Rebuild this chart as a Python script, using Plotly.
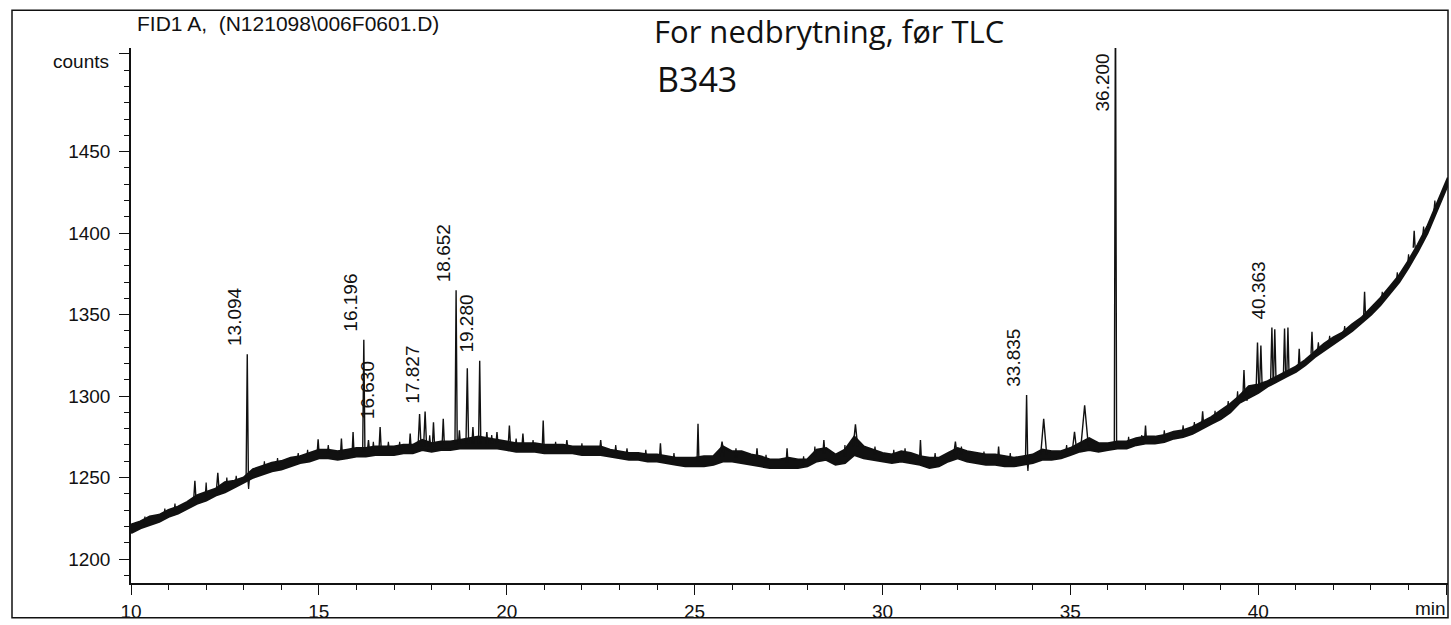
import plotly.graph_objects as go

# Detector baseline: retention time (min) with lower / upper edge of the noise band (counts)
band_t = [10.0, 10.25, 10.5, 10.75, 11.0, 11.25, 11.5, 11.75, 12.0, 12.25, 12.5, 12.75,
          13.0, 13.25, 13.5, 13.75, 14.0, 14.25, 14.5, 14.75, 15.0, 15.25, 15.5, 15.75,
          16.0, 16.25, 16.5, 16.75, 17.0, 17.25, 17.5, 17.75, 18.0, 18.25, 18.5, 18.75,
          19.0, 19.25, 19.5, 19.75, 20.0, 20.25, 20.5, 20.75, 21.0, 21.25, 21.5, 21.75,
          22.0, 22.25, 22.5, 22.75, 23.0, 23.25, 23.5, 23.75, 24.0, 24.25, 24.5, 24.75,
          25.0, 25.25, 25.5, 25.75, 26.0, 26.25, 26.5, 26.75, 27.0, 27.25, 27.5, 27.75,
          28.0, 28.25, 28.5, 28.75, 29.0, 29.25, 29.5, 29.75, 30.0, 30.25, 30.5, 30.75,
          31.0, 31.25, 31.5, 31.75, 32.0, 32.25, 32.5, 32.75, 33.0, 33.25, 33.5, 33.75,
          34.0, 34.25, 34.5, 34.75, 35.0, 35.25, 35.5, 35.75, 36.0, 36.25, 36.5, 36.75,
          37.0, 37.25, 37.5, 37.75, 38.0, 38.25, 38.5, 38.75, 39.0, 39.25, 39.5, 39.75,
          40.0, 40.25, 40.5, 40.75, 41.0, 41.25, 41.5, 41.75, 42.0, 42.25, 42.5, 42.75,
          43.0, 43.25, 43.5, 43.75, 44.0, 44.25, 44.5, 44.75, 45.05]
band_lo = [1216, 1219, 1221, 1223, 1226, 1228, 1231, 1234, 1236, 1239, 1241, 1244,
           1247, 1250, 1252, 1254, 1255, 1257, 1259, 1260, 1262, 1262, 1261, 1262,
           1263, 1263, 1264, 1264, 1264, 1265, 1265, 1267, 1266, 1267, 1267, 1268,
           1268, 1268, 1268, 1268, 1267, 1266, 1266, 1266, 1265, 1265, 1265, 1265,
           1264, 1264, 1264, 1263, 1262, 1261, 1261, 1260, 1260, 1259, 1258, 1257,
           1257, 1257, 1258, 1260, 1260, 1259, 1258, 1257, 1256, 1256, 1256, 1256,
           1257, 1260, 1261, 1258, 1259, 1264, 1262, 1261, 1260, 1259, 1260, 1259,
           1258, 1256, 1257, 1260, 1262, 1260, 1259, 1258, 1258, 1257, 1257, 1258,
           1259, 1261, 1261, 1262, 1264, 1266, 1267, 1266, 1267, 1268, 1268, 1270,
           1271, 1271, 1272, 1274, 1275, 1277, 1280, 1283, 1286, 1290, 1296, 1299,
           1302, 1306, 1309, 1312, 1315, 1319, 1324, 1328, 1332, 1336, 1340, 1345,
           1350, 1356, 1363, 1370, 1379, 1389, 1400, 1414, 1430]
band_hi = [1221, 1223, 1226, 1227, 1230, 1232, 1235, 1239, 1241, 1243, 1247, 1248,
           1250, 1255, 1257, 1259, 1260, 1262, 1263, 1265, 1267, 1267, 1266, 1267,
           1268, 1268, 1269, 1269, 1269, 1270, 1270, 1273, 1271, 1272, 1272, 1273,
           1274, 1275, 1274, 1273, 1272, 1271, 1271, 1271, 1270, 1270, 1270, 1269,
           1269, 1269, 1269, 1267, 1266, 1265, 1265, 1264, 1264, 1263, 1262, 1262,
           1262, 1263, 1263, 1269, 1266, 1266, 1264, 1263, 1261, 1261, 1262, 1261,
           1261, 1267, 1268, 1264, 1267, 1275, 1269, 1267, 1265, 1264, 1266, 1265,
           1263, 1262, 1262, 1265, 1268, 1266, 1265, 1264, 1264, 1263, 1262, 1263,
           1264, 1267, 1266, 1266, 1268, 1271, 1274, 1271, 1271, 1272, 1272, 1274,
           1275, 1275, 1276, 1278, 1279, 1281, 1284, 1287, 1291, 1295, 1300, 1306,
           1307, 1309, 1312, 1315, 1318, 1322, 1327, 1332, 1336, 1339, 1344, 1348,
           1354, 1360, 1367, 1374, 1383, 1393, 1404, 1418, 1434]

# Peaks: retention time (min), local baseline, apex (counts), base width (min)
peak_t = [11.70, 12.31, 13.094, 14.98, 15.60, 15.91, 16.196, 16.32, 16.630, 17.43,
          17.68, 17.827, 18.05, 18.31, 18.652, 18.74, 18.95, 19.10, 19.280, 19.47,
          19.74, 20.07, 20.43, 20.97, 21.60, 22.50, 24.09, 25.09, 25.73, 26.66,
          27.46, 28.44, 29.28, 31.01, 31.94, 33.09, 33.835, 34.29, 35.11, 35.38,
          36.200, 37.00, 38.52, 39.62, 39.98, 40.07, 40.363, 40.44, 40.70, 40.79,
          41.09, 41.43, 42.83, 44.15]
peak_base = [1237, 1244, 1250, 1265, 1264, 1265, 1266, 1267, 1267, 1268,
             1269, 1269, 1269, 1270, 1270, 1271, 1271, 1271, 1271, 1271,
             1271, 1270, 1269, 1268, 1268, 1267, 1262, 1260, 1263, 1261,
             1259, 1265, 1269, 1261, 1263, 1261, 1260, 1264, 1266, 1269,
             1270, 1273, 1283, 1299, 1305, 1305, 1308, 1308, 1313, 1313,
             1317, 1326, 1349, 1391]
peak_top = [1248, 1253, 1325.7, 1273.5, 1274, 1278, 1334.5, 1273, 1281, 1277,
            1289, 1290.5, 1284, 1286, 1365, 1279, 1317, 1281, 1321.6, 1278,
            1278, 1282, 1277, 1285, 1273, 1273, 1271, 1283, 1272, 1268,
            1268, 1273, 1282.6, 1273, 1272, 1269, 1300.6, 1286, 1278, 1294.4,
            1560, 1282, 1290.6, 1316, 1332.8, 1331, 1342, 1341, 1341.4, 1342,
            1329, 1339.5, 1364, 1401.5]
peak_w = [0.06, 0.06, 0.06, 0.05, 0.05, 0.05, 0.06, 0.05, 0.06, 0.05,
          0.08, 0.08, 0.06, 0.06, 0.06, 0.05, 0.07, 0.05, 0.06, 0.05,
          0.05, 0.06, 0.05, 0.05, 0.05, 0.05, 0.05, 0.05, 0.12, 0.05,
          0.05, 0.05, 0.12, 0.05, 0.10, 0.05, 0.06, 0.16, 0.12, 0.20,
          0.06, 0.05, 0.05, 0.06, 0.07, 0.07, 0.07, 0.07, 0.06, 0.06,
          0.05, 0.05, 0.05, 0.05]

# Small excursions of the baseline noise: time (min), start level, extreme (counts)
spike_t = [10.37, 10.90, 11.17, 12.00, 12.55, 12.80, 13.13, 13.55, 13.90, 14.45,
           14.70, 15.25, 16.45, 16.85, 17.15, 17.95, 19.60, 20.25, 20.70, 21.30,
           22.00, 22.90, 23.20, 23.70, 24.45, 26.10, 26.90, 27.90, 28.20, 29.00,
           29.80, 30.30, 30.60, 31.40, 32.10, 32.70, 33.40, 33.87, 34.90, 36.55,
           36.90, 37.50, 38.00, 38.30, 38.85, 39.20, 39.45, 39.70, 41.60, 41.90,
           42.30, 43.30, 43.70, 44.00, 44.40, 44.70]
spike_base = [1221, 1226, 1229, 1238, 1244, 1246, 1250, 1254, 1257, 1261,
              1262, 1265, 1266, 1267, 1267, 1269, 1271, 1269, 1268, 1267,
              1266, 1265, 1264, 1262, 1260, 1262, 1259, 1258, 1262, 1263,
              1264, 1262, 1263, 1260, 1264, 1261, 1260, 1261, 1265, 1270,
              1271, 1274, 1277, 1279, 1285, 1291, 1296, 1303, 1328, 1332,
              1338, 1358, 1370, 1381, 1398, 1414]
spike_top = [1226, 1231, 1234, 1247, 1250, 1251, 1243, 1260, 1262, 1265,
             1267, 1270, 1272, 1272, 1272, 1276, 1276, 1274, 1273, 1272,
             1271, 1270, 1268, 1267, 1265, 1268, 1264, 1263, 1269, 1270,
             1269, 1267, 1268, 1265, 1269, 1266, 1265, 1254, 1270, 1275,
             1276, 1279, 1282, 1284, 1291, 1297, 1303, 1297, 1333, 1337,
             1343, 1364, 1376, 1387, 1404, 1420]

# Integrated peaks annotated with their retention time
labeled_t = [13.094, 16.196, 16.630, 17.827, 18.652, 19.280, 33.835, 36.200, 40.363]

x_ticks = [10, 15, 20, 25, 30, 35, 40, 45]
x_ticktext = ["10", "15", "20", "25", "30", "35", "40", ""]
y_ticks = [1200, 1250, 1300, 1350, 1400, 1450, 1510]
y_ticktext = ["1200", "1250", "1300", "1350", "1400", "1450", ""]

X_RANGE = [10, 45.05]
Y_RANGE = [1185.3, 1513.6]

FONT = "Liberation Sans, Arial, sans-serif"
HAND = "Open Sans, sans-serif"
INK = "#111111"
SPIKE_W = 0.05

fig = go.Figure()

# noise band as a closed polygon between lower and upper edge
fig.add_trace(go.Scatter(
    x=band_t + band_t[::-1],
    y=band_hi + band_lo[::-1],
    fill="toself", fillcolor=INK,
    mode="lines", line=dict(color=INK, width=2.4),
    hoverinfo="skip", showlegend=False,
))


def triangles(ts, bases, tops, widths):
    xs, ys = [], []
    for t, b, top, w in zip(ts, bases, tops, widths):
        xs += [t - w / 2, t, t + w / 2, None]
        ys += [b, top, b, None]
    return xs, ys


# noise excursions
sx, sy = triangles(spike_t, spike_base, spike_top, [SPIKE_W] * len(spike_t))
fig.add_trace(go.Scatter(
    x=sx, y=sy, mode="lines", line=dict(color=INK, width=1.2),
    hoverinfo="skip", showlegend=False,
))

# peaks as narrow triangles rising from the baseline
px, py = triangles(peak_t, peak_base, peak_top, peak_w)
fig.add_trace(go.Scatter(
    x=px, y=py, mode="lines", line=dict(color=INK, width=1.4),
    hoverinfo="skip", showlegend=False,
))

# retention-time labels above each integrated peak
for lt in labeled_t:
    top = peak_top[peak_t.index(lt)]
    clipped = top > Y_RANGE[1]
    fig.add_annotation(
        x=lt, y=Y_RANGE[1] if clipped else top,
        text=f"{lt:.3f}", textangle=-90, showarrow=False,
        xanchor="center", yanchor="top" if clipped else "bottom",
        xshift=-13, yshift=-3 if clipped else 6,
        font=dict(family=FONT, size=19, color=INK),
    )

fig.update_xaxes(
    range=X_RANGE, showline=True, linecolor=INK, linewidth=1.5,
    showgrid=False, zeroline=False, mirror=False,
    ticks="outside", tickvals=x_ticks, ticktext=x_ticktext,
    ticklen=10, tickwidth=1.2, tickcolor=INK,
    minor=dict(ticks="outside", dtick=1, tick0=10, ticklen=5, tickwidth=1, tickcolor=INK),
    tickfont=dict(family=FONT, size=19, color=INK),
)
fig.update_yaxes(
    range=Y_RANGE, showline=True, linecolor=INK, linewidth=1.5,
    showgrid=False, zeroline=False,
    ticks="outside", tickvals=y_ticks, ticktext=y_ticktext,
    ticklen=10, tickwidth=1.2, tickcolor=INK,
    minor=dict(ticks="outside", dtick=10, tick0=1200, ticklen=5, tickwidth=1, tickcolor=INK),
    tickfont=dict(family=FONT, size=19, color=INK),
    ticklabelstandoff=5,
)

L, R, T, B = 131, 3, 48, 40
W, H = 1451, 625
pw, ph = W - L - R, H - T - B


def pxx(x):
    return (x - L) / pw


def pxy(y):
    return (H - B - y) / ph


# outer frame of the printout
fig.add_shape(type="rect", xref="paper", yref="paper",
              x0=pxx(12), x1=pxx(1448), y0=pxy(620), y1=pxy(10),
              line=dict(color=INK, width=1.5), layer="above")

fig.add_annotation(xref="paper", yref="paper", x=pxx(135), y=pxy(23),
                   xanchor="left", yanchor="middle", showarrow=False,
                   text="FID1 A,  (N121098\\006F0601.D)",
                   font=dict(family=FONT, size=21, color=INK))
fig.add_annotation(xref="paper", yref="paper", x=pxx(111), y=pxy(62),
                   xanchor="right", yanchor="middle", showarrow=False,
                   text="counts", font=dict(family=FONT, size=19, color=INK))
fig.add_annotation(xref="paper", yref="paper", x=pxx(1448), y=pxy(611),
                   xanchor="right", yanchor="middle", showarrow=False,
                   text="min", font=dict(family=FONT, size=19, color=INK))

# handwritten note
fig.add_annotation(xref="paper", yref="paper", x=pxx(652), y=pxy(31),
                   xanchor="left", yanchor="middle", showarrow=False,
                   text="For nedbrytning, før TLC",
                   font=dict(family=HAND, size=31, color=INK))
fig.add_annotation(xref="paper", yref="paper", x=pxx(655), y=pxy(79),
                   xanchor="left", yanchor="middle", showarrow=False,
                   text="B343",
                   font=dict(family=HAND, size=34, color=INK))

fig.update_layout(
    width=W, height=H,
    margin=dict(l=L, r=R, t=T, b=B),
    paper_bgcolor="white", plot_bgcolor="white",
    showlegend=False,
)

fig.write_html("out.html")
